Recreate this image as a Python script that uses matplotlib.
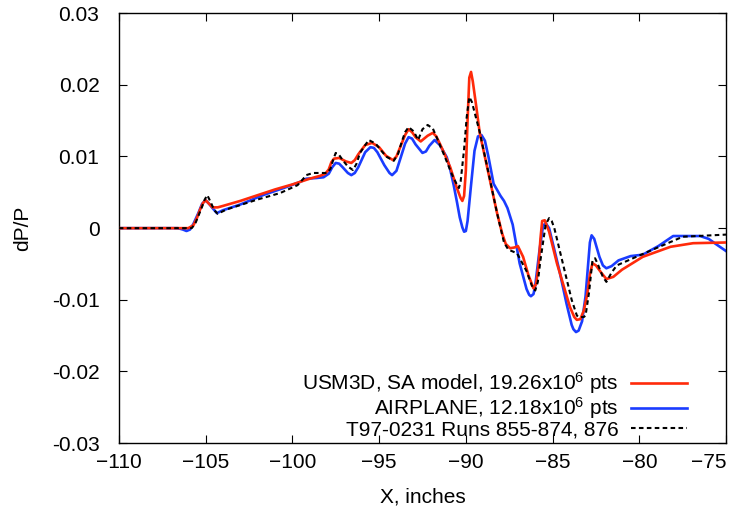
import matplotlib
matplotlib.use("Agg")
import matplotlib.pyplot as plt

plt.rcParams['font.family'] = ['Liberation Sans', 'DejaVu Sans']
plt.rcParams['mathtext.fontset'] = 'custom'
plt.rcParams['mathtext.rm'] = 'Liberation Sans'
plt.rcParams['mathtext.it'] = 'Liberation Sans'

# USM3D, SA model
usm_x = [-110, -106.0, -105.7, -105.5, -105.3, -105.15, -105.0, -104.8, -104.6, -104.3,
         -104.0, -103.0, -102.0, -101.0, -100.0, -99.0, -98.4, -98.1, -97.9, -97.75,
         -97.6, -97.3, -96.9, -96.6, -96.4, -96.2, -95.8, -95.4, -95.0, -94.6,
         -94.2, -94.0, -93.8, -93.5, -93.3, -93.1, -92.9, -92.6, -92.2, -91.9,
         -91.7, -91.5, -91.2, -90.9, -90.5, -90.3, -90.2, -90.1, -90.0, -89.9,
         -89.8, -89.7, -89.6, -89.4, -89.2, -88.7, -88.2, -87.9, -87.7, -87.45,
         -87.2, -87.0, -86.7, -86.4, -86.1, -85.95, -85.8, -85.7, -85.6, -85.45,
         -85.2, -84.75, -84.0, -83.75, -83.6, -83.4, -83.2, -83.0, -82.85, -82.7,
         -82.5, -82.2, -81.9, -81.5, -81.0, -79.8, -78.2, -76.9, -75.0]
usm_y = [0.0, 0.0, 0.0004, 0.0014, 0.0027, 0.0035, 0.0039, 0.0034, 0.0029, 0.0029,
         0.0031, 0.0038, 0.0046, 0.0054, 0.0061, 0.0069, 0.0073, 0.0076, 0.0082, 0.0092,
         0.0097, 0.0098, 0.0093, 0.0091, 0.0095, 0.0103, 0.0116, 0.0119, 0.0113, 0.0101,
         0.0095, 0.0100, 0.0112, 0.0130, 0.0138, 0.0134, 0.0127, 0.0121, 0.0129, 0.0133,
         0.0128, 0.0118, 0.0102, 0.0085, 0.0055, 0.0042, 0.0038, 0.0045, 0.0080, 0.0150,
         0.0210, 0.0218, 0.0205, 0.0170, 0.0133, 0.0077, 0.0021, -0.0008, -0.0022, -0.0028,
         -0.0027, -0.0025, -0.0040, -0.0065, -0.0084, -0.0078, -0.0050, -0.0015, 0.0010, 0.0011,
         -0.0005, -0.0049, -0.0110, -0.0124, -0.0128, -0.0127, -0.0115, -0.0092, -0.0065, -0.0049,
         -0.0052, -0.0062, -0.0071, -0.0068, -0.0058, -0.0040, -0.0026, -0.0021, -0.0020]

# AIRPLANE
air_x = [-110, -106.6, -106.3, -106.1, -105.9, -105.7, -105.4, -105.2, -105.0, -104.8,
         -104.6, -104.35, -104.0, -103.0, -101.7, -100.5, -99.6, -99.2, -98.6, -98.2,
         -97.9, -97.7, -97.5, -97.3, -97.1, -96.8, -96.6, -96.4, -96.2, -95.8,
         -95.5, -95.3, -95.1, -94.7, -94.4, -94.25, -94.0, -93.8, -93.5, -93.3,
         -93.1, -92.9, -92.5, -92.3, -92.1, -91.8, -91.5, -91.1, -90.9, -90.7,
         -90.5, -90.35, -90.2, -90.1, -90.0, -89.9, -89.7, -89.5, -89.3, -89.1,
         -88.9, -88.7, -88.4, -88.0, -87.8, -87.6, -87.3, -86.9, -86.5, -86.35,
         -86.25, -86.1, -86.0, -85.75, -85.55, -85.4, -85.2, -85.0, -84.6, -84.2,
         -83.9, -83.8, -83.65, -83.5, -83.3, -83.1, -82.95, -82.85, -82.75, -82.6,
         -82.3, -82.1, -81.9, -81.6, -81.2, -80.5, -79.8, -78.9, -78.05, -76.5,
         -76.0, -75.6, -75.0]
air_y = [0.0, 0.0, -0.0002, -0.0004, -0.0002, 0.0006, 0.0022, 0.0034, 0.0039, 0.0034,
         0.0028, 0.0021, 0.0025, 0.0033, 0.0046, 0.0056, 0.0064, 0.0069, 0.0070, 0.0071,
         0.0076, 0.0085, 0.0091, 0.0090, 0.0085, 0.0077, 0.0074, 0.0077, 0.0085, 0.0106,
         0.0113, 0.0112, 0.0106, 0.0088, 0.0077, 0.0074, 0.0080, 0.0095, 0.0118, 0.0127,
         0.0125, 0.0117, 0.0105, 0.0107, 0.0115, 0.0123, 0.0116, 0.0099, 0.0082, 0.0060,
         0.0035, 0.0015, 0.0001, -0.0005, -0.0004, 0.0010, 0.0060, 0.0108, 0.0128, 0.0130,
         0.0122, 0.0100, 0.0062, 0.0045, 0.0038, 0.0028, 0.0005, -0.0049, -0.0085, -0.0093,
         -0.0095, -0.0092, -0.0080, -0.0030, 0.0003, 0.0007, 0.0000, -0.0020, -0.0060, -0.0105,
         -0.0135, -0.0141, -0.0145, -0.0143, -0.0130, -0.0095, -0.0050, -0.0020, -0.0010, -0.0015,
         -0.0040, -0.0052, -0.0056, -0.0053, -0.0045, -0.0039, -0.0037, -0.0025, -0.0011, -0.0011,
         -0.0015, -0.0022, -0.0032]

# T97-0231 wind tunnel runs
t97_x = [-110, -105.8, -105.6, -105.4, -105.2, -105.05, -104.9, -104.7, -104.5, -104.3,
         -103.8, -102.0, -100.7, -99.7, -99.4, -99.2, -98.8, -98.0, -97.8, -97.65,
         -97.5, -97.3, -97.1, -96.8, -96.5, -96.3, -96.1, -95.6, -95.2, -94.6,
         -94.15, -93.9, -93.7, -93.5, -93.3, -93.0, -92.75, -92.5, -92.2, -91.9,
         -91.6, -91.3, -90.8, -90.5, -90.4, -90.3, -90.1, -89.95, -89.8, -89.65,
         -89.5, -89.2, -88.7, -88.2, -87.8, -87.55, -87.05, -86.5, -86.2, -86.0,
         -85.85, -85.7, -85.4, -85.2, -85.05, -84.9, -84.4, -83.9, -83.6, -83.5,
         -83.2, -83.1, -82.9, -82.7, -82.55, -82.4, -82.1, -81.9, -81.6, -81.3,
         -79.8, -77.5, -75.0]
t97_y = [0.0, 0.0, 0.0006, 0.0018, 0.0030, 0.0040, 0.0046, 0.0036, 0.0025, 0.0020,
         0.0026, 0.0040, 0.0049, 0.0060, 0.0068, 0.0074, 0.0077, 0.0077, 0.0083, 0.0095,
         0.0105, 0.0102, 0.0095, 0.0086, 0.0081, 0.0090, 0.0105, 0.0123, 0.0118, 0.0100,
         0.0094, 0.0104, 0.0120, 0.0134, 0.0141, 0.0135, 0.0123, 0.0138, 0.0144, 0.0139,
         0.0122, 0.0105, 0.0075, 0.0060, 0.0056, 0.0065, 0.0110, 0.0155, 0.0183, 0.0176,
         0.0162, 0.0134, 0.0078, 0.0021, -0.0020, -0.0030, -0.0035, -0.0060, -0.0080, -0.0087,
         -0.0075, -0.0045, 0.0005, 0.0014, 0.0010, 0.0000, -0.0050, -0.0100, -0.0122, -0.0124,
         -0.0124, -0.0122, -0.0090, -0.0045, -0.0042, -0.0050, -0.0068, -0.0075, -0.0062, -0.0052,
         -0.0036, -0.0012, -0.0009]

x_ticks = [-110, -105, -100, -95, -90, -85, -80, -75]
y_ticks = [-0.03, -0.02, -0.01, 0, 0.01, 0.02, 0.03]
y_tick_labels = ['-0.03', '-0.02', '-0.01', '0', '0.01', '0.02', '0.03']

fig = plt.figure(figsize=(7.29, 5.07), dpi=100)
ax = fig.add_axes([0.163, 0.126, 0.833, 0.848])

ax.plot(usm_x, usm_y, color='#ff2a0a', lw=1.9,
        label='USM3D, SA model, 19.26x10$^{6}$ pts', zorder=3)
ax.plot(air_x, air_y, color='#1a3cff', lw=1.9,
        label='AIRPLANE, 12.18x10$^{6}$ pts', zorder=2)
ax.plot(t97_x, t97_y, color='black', lw=1.5, ls=(0, (2.2, 1.6)),
        label='T97-0231 Runs 855-874, 876', zorder=4)

ax.set_xlim(-110, -75)
ax.set_ylim(-0.03, 0.03)
ax.set_xticks(x_ticks)
ax.set_yticks(y_ticks)
ax.set_yticklabels(y_tick_labels)
ax.tick_params(direction='in', top=True, right=True, length=6, width=0.8,
               labelsize=15, pad=7)
ax.tick_params(axis='y', pad=14)
ax.get_xticklabels()[-1].set_horizontalalignment('right')
for s in ax.spines.values():
    s.set_linewidth(1.0)

ax.set_xlabel('X, inches', fontsize=15, labelpad=11)
ax.set_ylabel('dP/P', fontsize=15, labelpad=14)

leg = ax.legend(loc='lower right', bbox_to_anchor=(0.96, -0.025), frameon=False,
                markerfirst=False, fontsize=15, handlelength=2.7,
                labelspacing=-0.05, handletextpad=0.6, borderaxespad=0.3)

fig.savefig('out.png', dpi=100)
